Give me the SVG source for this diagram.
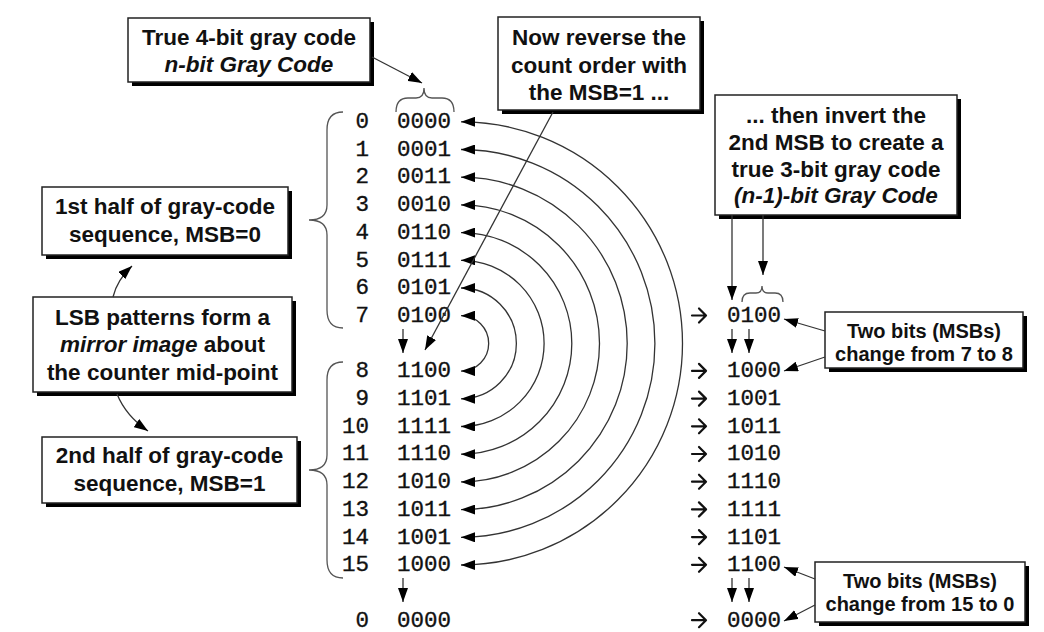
<svg xmlns="http://www.w3.org/2000/svg" width="1044" height="632" viewBox="0 0 1044 632">
<style>
.bx{fill:#fff;stroke:#222;stroke-width:1.5}
.sh{fill:#000}
.bt{font-family:"Liberation Sans",Arial,sans-serif;font-weight:bold;font-size:22.5px;fill:#111;text-anchor:middle}
.st{font-family:"Liberation Sans",Arial,sans-serif;font-weight:bold;font-size:20px;fill:#111;text-anchor:middle}
.it{font-style:italic}
.cd{font-family:"Liberation Mono","Courier New",monospace;font-size:22.5px;fill:#111;stroke:#111;stroke-width:0.35}
.ix{font-family:"Liberation Mono","Courier New",monospace;font-size:22.5px;fill:#111;stroke:#111;stroke-width:0.35;text-anchor:end}
.ra{fill:none;stroke:#111;stroke-width:2.2;stroke-linecap:round;stroke-linejoin:round}
.ln{fill:none;stroke:#333;stroke-width:1.3}
.br{fill:none;stroke:#555;stroke-width:1.3}
</style>
<defs>
<marker id="ah" viewBox="0 0 14 10" refX="14" refY="5" markerWidth="14" markerHeight="10" markerUnits="userSpaceOnUse" orient="auto-start-reverse"><path d="M0,0 L14,5 L0,10 z" fill="#000"/></marker>
<path id="ra" class="ra" d="M692,0 L705,0 M699,-7 L706,0 L699,7"/>
</defs>
<rect width="1044" height="632" fill="#fff"/>

<g id="box-true4bit">
<rect class="sh" x="132" y="22" width="242" height="64"/>
<rect class="bx" x="128" y="18" width="242" height="64"/>
<text class="bt" x="249" y="45">True 4-bit gray code</text>
<text class="bt it" x="249" y="72">n-bit Gray Code</text>
</g>

<g id="box-reverse">
<rect class="sh" x="502" y="21" width="202" height="93"/>
<rect class="bx" x="498" y="17" width="202" height="93"/>
<text class="bt" x="599" y="45">Now reverse the</text>
<text class="bt" x="599" y="73">count order with</text>
<text class="bt" x="599" y="100">the MSB=1 ...</text>
</g>

<g id="box-invert">
<rect class="sh" x="719" y="99" width="242" height="120"/>
<rect class="bx" x="715" y="95" width="242" height="120"/>
<text class="bt" x="836" y="123">... then invert the</text>
<text class="bt" x="836" y="150">2nd MSB to create a</text>
<text class="bt" x="836" y="177">true 3-bit gray code</text>
<text class="bt it" x="836" y="203">(n-1)-bit Gray Code</text>
</g>

<g id="box-first-half">
<rect class="sh" x="46" y="191" width="246" height="68"/>
<rect class="bx" x="42" y="187" width="246" height="68"/>
<text class="bt" x="165" y="214">1st half of gray-code</text>
<text class="bt" x="165" y="242">sequence, MSB=0</text>
</g>

<g id="box-lsb">
<rect class="sh" x="37" y="301" width="259" height="95"/>
<rect class="bx" x="33" y="297" width="259" height="95"/>
<text class="bt" x="162.5" y="325">LSB patterns form a</text>
<text class="bt" x="162.5" y="352"><tspan class="it">mirror image</tspan> about</text>
<text class="bt" x="162.5" y="380">the counter mid-point</text>
</g>

<g id="box-second-half">
<rect class="sh" x="46" y="441" width="255" height="66"/>
<rect class="bx" x="42" y="437" width="255" height="66"/>
<text class="bt" x="169.5" y="463">2nd half of gray-code</text>
<text class="bt" x="169.5" y="491">sequence, MSB=1</text>
</g>

<g id="box-7to8">
<rect class="sh" x="829" y="316" width="198" height="56"/>
<rect class="bx" x="825" y="312" width="198" height="56"/>
<text class="st" x="924" y="338">Two bits (MSBs)</text>
<text class="st" x="924" y="361">change from 7 to 8</text>
</g>

<g id="box-15to0">
<rect class="sh" x="819" y="566" width="210" height="60"/>
<rect class="bx" x="815" y="562" width="210" height="60"/>
<text class="st" x="920" y="588">Two bits (MSBs)</text>
<text class="st" x="920" y="611">change from 15 to 0</text>
</g>

<g id="left-column">
<text class="ix" x="369" y="128">0</text><text class="cd" x="397" y="128">0000</text>
<text class="ix" x="369" y="155.7">1</text><text class="cd" x="397" y="155.7">0001</text>
<text class="ix" x="369" y="183.4">2</text><text class="cd" x="397" y="183.4">0011</text>
<text class="ix" x="369" y="211.1">3</text><text class="cd" x="397" y="211.1">0010</text>
<text class="ix" x="369" y="238.8">4</text><text class="cd" x="397" y="238.8">0110</text>
<text class="ix" x="369" y="266.5">5</text><text class="cd" x="397" y="266.5">0111</text>
<text class="ix" x="369" y="294.2">6</text><text class="cd" x="397" y="294.2">0101</text>
<text class="ix" x="369" y="321.9">7</text><text class="cd" x="397" y="321.9">0100</text>
<text class="ix" x="369" y="377.3">8</text><text class="cd" x="397" y="377.3">1100</text>
<text class="ix" x="369" y="405">9</text><text class="cd" x="397" y="405">1101</text>
<text class="ix" x="369" y="432.7">10</text><text class="cd" x="397" y="432.7">1111</text>
<text class="ix" x="369" y="460.4">11</text><text class="cd" x="397" y="460.4">1110</text>
<text class="ix" x="369" y="488.1">12</text><text class="cd" x="397" y="488.1">1010</text>
<text class="ix" x="369" y="515.8">13</text><text class="cd" x="397" y="515.8">1011</text>
<text class="ix" x="369" y="543.5">14</text><text class="cd" x="397" y="543.5">1001</text>
<text class="ix" x="369" y="571.2">15</text><text class="cd" x="397" y="571.2">1000</text>
<text class="ix" x="369" y="626.6">0</text><text class="cd" x="397" y="626.6">0000</text>
</g>

<g id="right-column">
<text class="cd" x="727" y="321.9">0100</text>
<text class="cd" x="727" y="377.3">1000</text>
<text class="cd" x="727" y="405">1001</text>
<text class="cd" x="727" y="432.7">1011</text>
<text class="cd" x="727" y="460.4">1010</text>
<text class="cd" x="727" y="488.1">1110</text>
<text class="cd" x="727" y="515.8">1111</text>
<text class="cd" x="727" y="543.5">1101</text>
<text class="cd" x="727" y="571.2">1100</text>
<text class="cd" x="727" y="626.6">0000</text>
</g>

<g id="right-arrows">
<use href="#ra" y="315.5"/>
<use href="#ra" y="370.9"/>
<use href="#ra" y="398.6"/>
<use href="#ra" y="426.3"/>
<use href="#ra" y="454"/>
<use href="#ra" y="481.7"/>
<use href="#ra" y="509.4"/>
<use href="#ra" y="537.1"/>
<use href="#ra" y="564.8"/>
<use href="#ra" y="620.2"/>
</g>

<g id="braces">
<path class="br" d="M396,112 Q396,98 408,98 L416,98 Q424,98 424,88 Q424,98 432,98 L442,98 Q454,98 454,112"/>
<path class="br" d="M742,302 Q742,293 750,293 L756,293 Q762,293 762,286 Q762,293 768,293 L775,293 Q783,293 783,302"/>
<path class="br" d="M343,112 Q327,112 327,130 L327,205 Q327,220 309,220 Q327,220 327,235 L327,310 Q327,328 343,328"/>
<path class="br" d="M343,362 Q327,362 327,380 L327,455 Q327,470 309,470 Q327,470 327,485 L327,560 Q327,578 343,578"/>
</g>

<g id="connectors">
<path class="ln" d="M461,121.8 A221.6,221.6 0 0 1 461,565" marker-start="url(#ah)" marker-end="url(#ah)"/>
<path class="ln" d="M461,149.5 A193.9,193.9 0 0 1 461,537.3" marker-start="url(#ah)" marker-end="url(#ah)"/>
<path class="ln" d="M461,177.2 A166.2,166.2 0 0 1 461,509.6" marker-start="url(#ah)" marker-end="url(#ah)"/>
<path class="ln" d="M461,204.9 A138.5,138.5 0 0 1 461,481.9" marker-start="url(#ah)" marker-end="url(#ah)"/>
<path class="ln" d="M461,232.6 A110.8,110.8 0 0 1 461,454.2" marker-start="url(#ah)" marker-end="url(#ah)"/>
<path class="ln" d="M461,260.3 A83.1,83.1 0 0 1 461,426.5" marker-start="url(#ah)" marker-end="url(#ah)"/>
<path class="ln" d="M461,288 A55.4,55.4 0 0 1 461,398.8" marker-start="url(#ah)" marker-end="url(#ah)"/>
<path class="ln" d="M461,315.7 A27.7,27.7 0 0 1 461,371.1" marker-start="url(#ah)" marker-end="url(#ah)"/>
<path class="ln" d="M372,57 L422,83" marker-end="url(#ah)"/>
<path class="ln" d="M553,112 L425,350" marker-end="url(#ah)"/>
<path class="ln" d="M732,215 L732,300" marker-end="url(#ah)"/>
<path class="ln" d="M763,215 L763,275" marker-end="url(#ah)"/>
<path class="ln" d="M113,297 Q117,280 132,266" marker-end="url(#ah)"/>
<path class="ln" d="M117,394 Q126,416 148,431" marker-end="url(#ah)"/>
<path class="ln" d="M403,329 L403,353" marker-end="url(#ah)"/>
<path class="ln" d="M403,578 L403,602" marker-end="url(#ah)"/>
<path class="ln" d="M732,329 L732,353" marker-end="url(#ah)"/>
<path class="ln" d="M749,329 L749,353" marker-end="url(#ah)"/>
<path class="ln" d="M732,578 L732,602" marker-end="url(#ah)"/>
<path class="ln" d="M749,578 L749,602" marker-end="url(#ah)"/>
<path class="ln" d="M825,331 L784,319" marker-end="url(#ah)"/>
<path class="ln" d="M825,357 L784,371" marker-end="url(#ah)"/>
<path class="ln" d="M815,579 L784,567" marker-end="url(#ah)"/>
<path class="ln" d="M815,605 L784,621" marker-end="url(#ah)"/>
</g>
</svg>
